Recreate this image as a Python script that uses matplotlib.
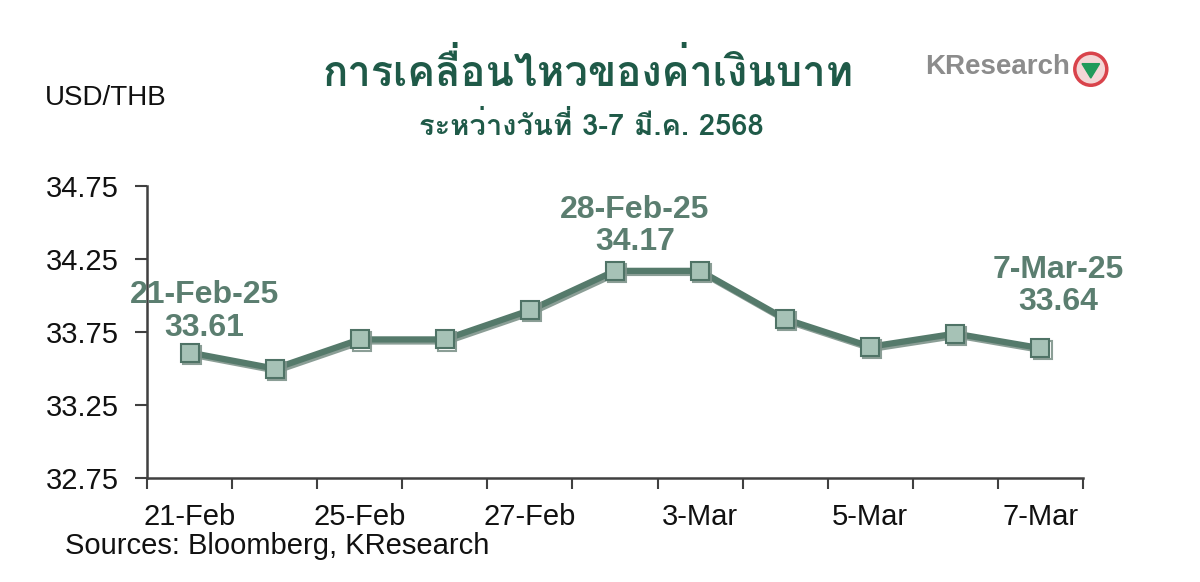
import matplotlib
matplotlib.use("Agg")
import matplotlib.pyplot as plt
import matplotlib.patheffects as pe
from matplotlib import font_manager
from matplotlib.ft2font import FT2Font
from matplotlib.ticker import FixedLocator

# data
dates = ['21-Feb', '24-Feb', '25-Feb', '26-Feb', '27-Feb', '28-Feb',
         '3-Mar', '4-Mar', '5-Mar', '6-Mar', '7-Mar']
rates = [33.61, 33.50, 33.70, 33.70, 33.90, 34.17, 34.17, 33.84, 33.65, 33.74, 33.64]
shown_dates = ['21-Feb', '25-Feb', '27-Feb', '3-Mar', '5-Mar', '7-Mar']
y_ticks = [32.75, 33.25, 33.75, 34.25, 34.75]
callouts = [('21-Feb-25', 0), ('28-Feb-25', 5), ('7-Mar-25', 10)]

title = 'การเคลื่อนไหวของค่าเงินบาท'
subtitle = 'ระหว่างวันที่ 3-7 มี.ค. 2568'


def find_thai_font():
    # pick any installed font that actually has Thai glyphs
    for f in font_manager.fontManager.ttflist:
        try:
            if ord('ก') in FT2Font(f.fname).get_charmap():
                return f.name
        except Exception:
            pass
    return 'DejaVu Sans'


thai_font = find_thai_font()
plt.rcParams['font.family'] = ['Liberation Sans', 'DejaVu Sans']

fig = plt.figure(figsize=(12, 5.82), dpi=100)
ax = fig.add_axes([0.1225, 0.1787, 0.78, 0.5013])

line_col = '#557a6b'
ax.plot(range(len(rates)), rates, color=line_col, lw=4.5, marker='s', ms=13,
        mfc='#a6c2b6', mec='#4f7366', mew=1.5, zorder=3,
        path_effects=[pe.SimpleLineShadow(offset=(1.5, -1.5), shadow_color='#7f948b', alpha=0.9),
                      pe.Normal()])

ax.set_xlim(-0.5, len(dates) - 0.5)
ax.set_ylim(32.75, 34.75)
ax.set_yticks(y_ticks)
ax.set_yticklabels([f'{v:.2f}' for v in y_ticks])

# ticks at category edges, labels on every other category
ax.xaxis.set_major_locator(FixedLocator([i - 0.5 for i in range(len(dates) + 1)]))
ax.xaxis.set_major_formatter(plt.NullFormatter())
pos = [dates.index(d) for d in shown_dates]
ax.xaxis.set_minor_locator(FixedLocator(pos))
ax.set_xticklabels(shown_dates, minor=True)
ax.tick_params(axis='x', which='major', length=8, width=1.5, color='#404040', direction='out')
ax.tick_params(axis='x', which='minor', length=0, pad=18, labelsize=21, labelcolor='#111111')
ax.tick_params(axis='y', length=9, width=1.5, color='#404040', direction='out', pad=11,
               labelsize=21, labelcolor='#111111')

for s in ['top', 'right']:
    ax.spines[s].set_visible(False)
for s in ['left', 'bottom']:
    ax.spines[s].set_color('#404040')
    ax.spines[s].set_linewidth(1.8)

offsets = {0: (15, 10), 5: (20, 14), 10: (18, 31)}
for label, i in callouts:
    ax.annotate(f'{label}\n{rates[i]:.2f}', xy=(i, rates[i]), xytext=offsets[i],
                textcoords='offset pixels', ha='center', va='bottom', fontsize=23,
                fontweight='bold', color='#5b7e70', linespacing=1.1, zorder=4)

fig.text(0.49, 0.876, title, ha='center', va='center', fontsize=30, fontweight='bold',
         color='#1f5a48', family=[thai_font, 'DejaVu Sans'])
fig.text(0.493, 0.783, subtitle, ha='center', va='center', fontsize=21, fontweight='bold',
         color='#1f5a48', family=[thai_font, 'DejaVu Sans'])
fig.text(0.037, 0.832, 'USD/THB', ha='left', va='center', fontsize=20, color='#111111')
fig.text(0.054, 0.062, 'Sources: Bloomberg, KResearch', ha='left', va='center',
         fontsize=21, color='#111111')

# KResearch logo
fig.text(0.771, 0.885, 'KResearch', ha='left', va='center', fontsize=20, fontweight='bold',
         color='#8c8c8c')
lax = fig.add_axes([0.893, 0.848, 0.032, 0.066])
lax.set_xlim(-1.2, 1.2)
lax.set_ylim(-1.2, 1.2)
lax.set_aspect('equal')
lax.axis('off')
lax.add_patch(plt.Circle((0, 0), 1.0, facecolor='#f3d6d6', edgecolor='#d9434b', lw=2.5))
lax.add_patch(plt.Polygon([(-0.55, 0.35), (0.55, 0.35), (0.0, -0.55)], color='#1f9a5a'))

fig.savefig('out.png', dpi=100, facecolor='white')
